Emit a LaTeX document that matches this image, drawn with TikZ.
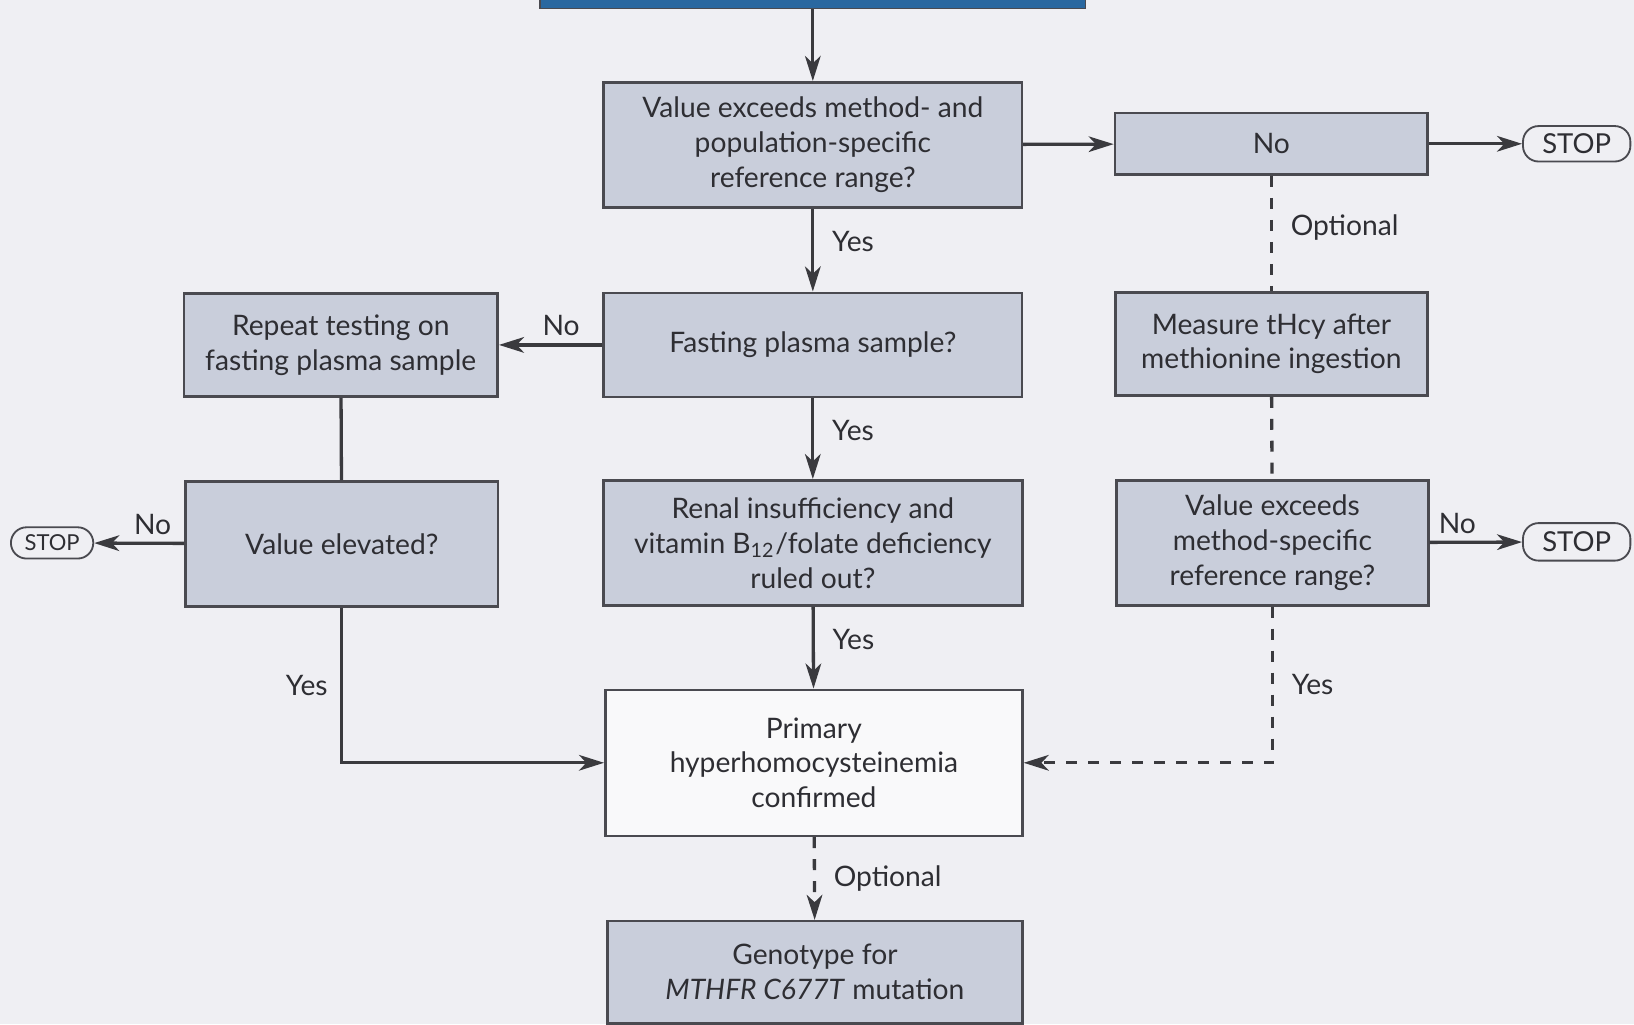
\documentclass[tikz,border=0pt]{standalone}
\usepackage{fontspec}
\setmainfont{Lato}
\usetikzlibrary{arrows.meta}

\definecolor{bg}{HTML}{EFEFF3}
\definecolor{boxfill}{HTML}{C9CEDB}
\definecolor{boxline}{HTML}{4A4A50}
\definecolor{txt}{HTML}{2E2E33}
\definecolor{lineclr}{HTML}{3A3A3E}
\definecolor{headblue}{HTML}{2A68A0}

\begin{document}
\begin{tikzpicture}[x=0.01cm, y=-0.01cm, >={Stealth[length=0.24cm, width=0.15cm, inset=0.07cm]},
  box/.style={draw=boxline, fill=boxfill, line width=0.7pt, align=center,
    text=txt, font=\fontsize{7.7}{9.5}\selectfont, inner sep=0pt},
  stopbox/.style={draw=boxline, fill=bg, line width=0.5pt, rounded corners=0.15cm,
    text=txt, inner sep=0pt},
  lbl/.style={text=txt, font=\fontsize{7.7}{9.5}\selectfont, inner sep=2pt},
  link/.style={draw=lineclr, line width=0.9pt}]

  \clip (0, 0) rectangle (1568, 983);
  \fill[bg] (0, 0) rectangle (1568, 983);

  % top bar and first question
  \node (head) at (780, -1) [fill=headblue, draw=boxline, minimum width=5.23cm, minimum height=0.18cm, inner sep=0pt] {};
  \node (range) at (780, 139) [box, minimum width=4.01cm, minimum height=1.20cm]
    {Value exceeds method- and\\population-specific\\reference range?};
  \node (no) at (1220, 138) [box, minimum width=3.00cm, minimum height=0.59cm] {No};
  \node (stopA) at (1513, 138) [stopbox, minimum width=1.03cm, minimum height=0.34cm, font=\fontsize{7.5}{9}\selectfont] {STOP};

  % middle row
  \node (fasting) at (780, 331) [box, minimum width=4.01cm, minimum height=1.00cm] {Fasting plasma sample?};
  \node (repeat) at (327, 331) [box, minimum width=3.01cm, minimum height=0.99cm]
    {Repeat testing on\\fasting plasma sample};
  \node (measure) at (1220, 330) [box, minimum width=2.99cm, minimum height=0.99cm]
    {Measure tHcy after\\methionine ingestion};

  % third row
  \node (elevated) at (328, 522) [box, minimum width=3.00cm, minimum height=1.20cm] {Value elevated?};
  \node (renal) at (780, 521) [box, minimum width=4.02cm, minimum height=1.20cm]
    {Renal insufficiency and\\vitamin B\textsubscript{12}/folate deficiency\\ruled out?};
  \node (methrange) at (1221, 521) [box, minimum width=2.99cm, minimum height=1.20cm]
    {Value exceeds\\method-specific\\reference range?};
  \node (stopB) at (50, 521) [stopbox, minimum width=0.79cm, minimum height=0.30cm, font=\fontsize{6}{7}\selectfont] {STOP};
  \node (stopC) at (1513, 520) [stopbox, minimum width=1.03cm, minimum height=0.36cm, font=\fontsize{7.5}{9}\selectfont] {STOP};

  % result and genotype
  \node (primary) at (781, 732) [box, fill=white!60!bg, minimum width=4.00cm, minimum height=1.40cm]
    {Primary\\hyperhomocysteinemia\\confirmed};
  \node (genotype) at (782, 933) [box, minimum width=3.98cm, minimum height=0.98cm]
    {Genotype for\\\textit{MTHFR C677T} mutation};

  % connectors
  \draw[link, ->] (head) -- (range);
  \draw[link, ->] (range) -- (no);
  \draw[link, ->] (no) -- (stopA);
  \draw[link, dashed] (no) -- node[lbl, right, pos=0.45, xshift=0.1cm] (opt1) {Optional} (measure);
  \draw[link, dashed] (measure) -- (methrange);
  \draw[link, ->] (methrange) -- node[lbl, above, pos=0.3] (no3) {No} (stopC);
  \draw[link, dashed, ->] (methrange) |- node[lbl, right, pos=0.25, xshift=0.1cm] (yes5) {Yes} (primary);

  \draw[link, ->] (range) -- node[lbl, right, pos=0.4, xshift=0.1cm] (yes1) {Yes} (fasting);
  \draw[link, ->] (fasting) -- node[lbl, above, pos=0.4] (no1) {No} (repeat);
  \draw[link] (repeat) -- (elevated);
  \draw[link, ->] (elevated) -- node[lbl, above, pos=0.35] (no2) {No} (stopB);
  \draw[link, ->] (elevated) |- node[lbl, left, pos=0.25, xshift=-0.05cm] (yes4) {Yes} (primary);

  \draw[link, ->] (fasting) -- node[lbl, right, pos=0.4, xshift=0.1cm] (yes2) {Yes} (renal);
  \draw[link, ->] (renal) -- node[lbl, right, pos=0.4, xshift=0.1cm] (yes3) {Yes} (primary);
  \draw[link, dashed, ->] (primary) -- node[lbl, right, xshift=0.1cm] (opt2) {Optional} (genotype);
\end{tikzpicture}
\end{document}
